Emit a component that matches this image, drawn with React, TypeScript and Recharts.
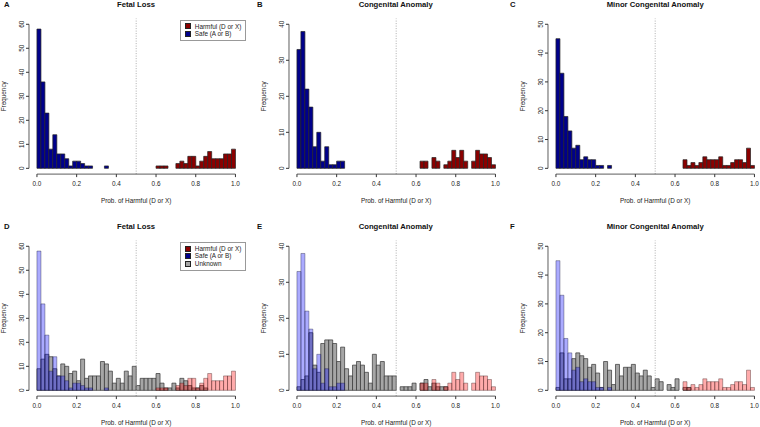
import React from "react";
import { BarChart, Bar, XAxis, YAxis, ReferenceLine, Legend } from "recharts";

// bins of width 0.02 from 0 to 1
const binStart = Array.from({ length: 50 }, (_, i) => i * 0.02);
const xTicks = [0, 0.2, 0.4, 0.6, 0.8, 1];

const fetalSafe = [
  58, 36, 23, 8, 14, 6, 6, 4, 1, 3,
  3, 2, 1, 1, 0, 0, 0, 1, 0, 0,
  0, 0, 0, 0, 0, 0, 0, 0, 0, 0,
  0, 0, 0, 0, 0, 0, 0, 0, 0, 0,
  0, 0, 0, 0, 0, 0, 0, 0, 0, 0,
];
const fetalHarmful = [
  0, 0, 0, 0, 0, 0, 0, 0, 0, 0,
  0, 0, 0, 0, 0, 0, 0, 0, 0, 0,
  0, 0, 0, 0, 0, 0, 0, 0, 0, 0,
  1, 1, 1, 0, 0, 2, 3, 2, 5, 5,
  1, 3, 5, 7, 4, 4, 4, 6, 6, 8,
];
const fetalUnknown = [
  9, 13, 15, 14, 9, 6, 11, 10, 7, 8,
  4, 13, 5, 6, 6, 6, 12, 11, 8, 3,
  5, 3, 8, 6, 10, 2, 5, 5, 5, 5,
  7, 3, 1, 1, 3, 1, 5, 4, 2, 1,
  1, 2, 1, 0, 0, 0, 0, 0, 0, 0,
];

const congSafe = [
  33, 38, 22, 17, 6, 10, 2, 6, 1, 1,
  2, 2, 0, 0, 0, 0, 0, 0, 0, 0,
  0, 0, 0, 0, 0, 0, 0, 0, 0, 0,
  0, 0, 0, 0, 0, 0, 0, 0, 0, 0,
  0, 0, 0, 0, 0, 0, 0, 0, 0, 0,
];
const congHarmful = [
  0, 0, 0, 0, 0, 0, 0, 0, 0, 0,
  0, 0, 0, 0, 0, 0, 0, 0, 0, 0,
  0, 0, 0, 0, 0, 0, 0, 0, 0, 0,
  0, 2, 2, 0, 3, 2, 0, 1, 2, 5,
  3, 5, 2, 0, 2, 5, 4, 4, 3, 1,
];
const congUnknown = [
  1, 3, 4, 16, 7, 5, 13, 14, 14, 13,
  8, 12, 6, 4, 7, 8, 7, 5, 2, 10,
  7, 8, 4, 4, 4, 0, 1, 1, 1, 2,
  0, 2, 3, 1, 2, 1, 1, 1, 0, 0,
  0, 0, 0, 0, 0, 0, 0, 0, 0, 0,
];

const minorSafe = [
  45, 33, 18, 13, 7, 8, 3, 4, 3, 3,
  1, 1, 0, 1, 0, 0, 0, 0, 0, 0,
  0, 0, 0, 0, 0, 0, 0, 0, 0, 0,
  0, 0, 0, 0, 0, 0, 0, 0, 0, 0,
  0, 0, 0, 0, 0, 0, 0, 0, 0, 0,
];
const minorHarmful = [
  0, 0, 0, 0, 0, 0, 0, 0, 0, 0,
  0, 0, 0, 0, 0, 0, 0, 0, 0, 0,
  0, 0, 0, 0, 0, 0, 0, 0, 0, 0,
  0, 0, 3, 1, 2, 1, 2, 4, 3, 3,
  3, 4, 1, 1, 2, 3, 3, 2, 7, 1,
];
const minorUnknown = [
  1, 13, 4, 4, 11, 13, 12, 11, 8, 9,
  6, 1, 10, 7, 2, 9, 5, 8, 8, 9,
  6, 5, 7, 5, 1, 4, 3, 0, 2, 1,
  4, 0, 1, 1, 0, 0, 0, 0, 0, 0,
  0, 0, 0, 0, 0, 0, 0, 0, 0, 0,
];

const font = "'Liberation Sans', Arial, Helvetica, sans-serif";
const darkBlue = "#00008b";
const darkRed = "#8b0000";
const grayFill = "#a6a6a6";

const plotW = 214.4;
const plotH = 155.6;
const yAxisW = 30;
const chartH = 213;
const xAxisH = 30;
const pad = (plotW * 0.04) / 1.08;

type Item = { label: string; color: string };

const legendTwo: Item[] = [
  { label: "Harmful (D or X)", color: darkRed },
  { label: "Safe (A or B)", color: darkBlue },
];
const legendThree: Item[] = [...legendTwo, { label: "Unknown", color: grayFill }];

function LegendBox({ items }: { items: Item[] }) {
  return (
    <div
      style={{
        border: "1px solid #999",
        background: "#fff",
        padding: "2px 4px 2px 4px",
        fontSize: 6.4,
        lineHeight: "7.6px",
        fontFamily: font,
        color: "#222",
        whiteSpace: "nowrap",
      }}
    >
      {items.map((it) => (
        <div key={it.label} style={{ display: "flex", alignItems: "center" }}>
          <span
            style={{
              display: "inline-block",
              width: 4,
              height: 4,
              background: it.color,
              border: "0.5px solid #222",
              marginRight: 4,
            }}
          />
          {it.label}
        </div>
      ))}
    </div>
  );
}

function YTick(props: any) {
  const { x, y, payload } = props;
  return (
    <text
      x={x}
      y={y}
      transform={`rotate(-90, ${x}, ${y})`}
      textAnchor="middle"
      fontSize={6.4}
      fontFamily={font}
      fill="#222"
    >
      {payload.value}
    </text>
  );
}

type PanelProps = {
  letter: string;
  title: string;
  yMax: number;
  yTicks: number[];
  safe: number[];
  harmful: number[];
  unknown?: number[];
  legend?: Item[];
  cellLeft: number;
  plotLeft: number;
  rowTop: number;
};

function Panel(p: PanelProps) {
  const rows = binStart.map((s, i) => ({
    bin: i,
    x: s + 0.01,
    safe: p.safe[i],
    harmful: p.harmful[i],
    unknown: p.unknown ? p.unknown[i] : 0,
  }));
  const lo = -0.04 * p.yMax;
  const hi = 1.04 * p.yMax;
  const overlay = !!p.unknown;
  const centerX = p.plotLeft + plotW / 2;
  const chartLeft = p.plotLeft - yAxisW;
  const chartW = yAxisW + plotW + 6;
  const bottomMargin = chartH - 18.5 - plotH - xAxisH;

  return (
    <>
      <div
        style={{
          position: "absolute",
          left: p.cellLeft + 4,
          top: p.rowTop,
          fontSize: 7.7,
          fontWeight: "bold",
          lineHeight: "9px",
        }}
      >
        {p.letter}
      </div>
      <div
        style={{
          position: "absolute",
          left: centerX - 100,
          width: 200,
          textAlign: "center",
          top: p.rowTop,
          fontSize: 7.7,
          fontWeight: "bold",
          lineHeight: "9px",
        }}
      >
        {p.title}
      </div>
      <div style={{ position: "absolute", left: chartLeft, top: p.rowTop }}>
        <BarChart
          width={chartW}
          height={chartH}
          data={rows}
          margin={{ top: 18.5, right: 6, bottom: bottomMargin, left: 0 }}
          barCategoryGap={0}
          barGap={0}
        >
          <XAxis
            xAxisId="a"
            type="number"
            dataKey="x"
            domain={[-0.04, 1.04]}
            allowDataOverflow
            ticks={xTicks}
            tickFormatter={(v: number) => v.toFixed(1)}
            axisLine={false}
            tickLine={{ stroke: "#333" }}
            tickSize={3}
            tickMargin={4}
            height={xAxisH}
            tick={{ fontSize: 6.4, fill: "#222", fontFamily: font }}
            label={{
              value: "Prob. of Harmful (D or X)",
              position: "insideBottom",
              offset: 1,
              style: { fontSize: 6.4, fill: "#222", fontFamily: font },
            }}
          />
          <XAxis xAxisId="g" dataKey="bin" hide height={0} padding={{ left: pad, right: pad }} />
          <XAxis xAxisId="s" dataKey="bin" hide height={0} padding={{ left: pad, right: pad }} />
          <XAxis xAxisId="h" dataKey="bin" hide height={0} padding={{ left: pad, right: pad }} />
          <YAxis
            type="number"
            domain={[lo, hi]}
            allowDataOverflow
            ticks={p.yTicks}
            width={yAxisW}
            axisLine={false}
            tickLine={{ stroke: "#333" }}
            tickSize={3}
            tickMargin={2}
            tick={<YTick />}
            label={{
              value: "Frequency",
              angle: -90,
              position: "insideLeft",
              offset: 5,
              style: { fontSize: 6.4, fill: "#222", fontFamily: font, textAnchor: "middle" },
            }}
          />
          <ReferenceLine
            xAxisId="a"
            x={0.5}
            stroke="#999"
            strokeDasharray="1 1.5"
            strokeWidth={0.8}
          />
          {overlay && (
            <Bar
              xAxisId="g"
              dataKey="unknown"
              fill={grayFill}
              stroke="#333"
              strokeWidth={0.7}
              isAnimationActive={false}
            />
          )}
          <Bar
            xAxisId="s"
            dataKey="safe"
            fill={overlay ? "rgba(0,0,255,0.33)" : darkBlue}
            stroke={overlay ? "rgba(30,30,60,0.55)" : "#222"}
            strokeWidth={0.7}
            isAnimationActive={false}
          />
          <Bar
            xAxisId="h"
            dataKey="harmful"
            fill={overlay ? "rgba(255,0,0,0.33)" : darkRed}
            stroke={overlay ? "rgba(60,30,30,0.55)" : "#222"}
            strokeWidth={0.7}
            isAnimationActive={false}
          />
          <ReferenceLine
            xAxisId="a"
            segment={[
              { x: 0, y: lo },
              { x: 1, y: lo },
            ]}
            stroke="#333"
            strokeWidth={0.8}
          />
          <ReferenceLine
            xAxisId="a"
            segment={[
              { x: -0.04, y: 0 },
              { x: -0.04, y: p.yMax },
            ]}
            stroke="#333"
            strokeWidth={0.8}
          />
          {p.legend && (
            <Legend
              layout="vertical"
              align="center"
              verticalAlign="middle"
              content={() => <LegendBox items={p.legend as Item[]} />}
              wrapperStyle={{ left: 181, top: 19.5, width: "auto", height: "auto" }}
            />
          )}
        </BarChart>
      </div>
    </>
  );
}

const cols = [
  { cellLeft: 0, plotLeft: 28.8 },
  { cellLeft: 253, plotLeft: 288.5 },
  { cellLeft: 506, plotLeft: 548 },
];
const rowTops = [0, 222.4];

export default function App() {
  return (
    <div
      style={{
        position: "absolute",
        left: 0,
        top: 0,
        width: 760,
        height: 427,
        overflow: "hidden",
        background: "#fff",
        fontFamily: font,
        color: "#111",
      }}
    >
      <Panel letter="A" title="Fetal Loss" yMax={60} yTicks={[0, 10, 20, 30, 40, 50, 60]}
        safe={fetalSafe} harmful={fetalHarmful} legend={legendTwo} {...cols[0]} rowTop={rowTops[0]} />
      <Panel letter="B" title="Congenital Anomaly" yMax={40} yTicks={[0, 10, 20, 30, 40]}
        safe={congSafe} harmful={congHarmful} {...cols[1]} rowTop={rowTops[0]} />
      <Panel letter="C" title="Minor Congenital Anomaly" yMax={50} yTicks={[0, 10, 20, 30, 40, 50]}
        safe={minorSafe} harmful={minorHarmful} {...cols[2]} rowTop={rowTops[0]} />
      <Panel letter="D" title="Fetal Loss" yMax={60} yTicks={[0, 10, 20, 30, 40, 50, 60]}
        safe={fetalSafe} harmful={fetalHarmful} unknown={fetalUnknown} legend={legendThree}
        {...cols[0]} rowTop={rowTops[1]} />
      <Panel letter="E" title="Congenital Anomaly" yMax={40} yTicks={[0, 10, 20, 30, 40]}
        safe={congSafe} harmful={congHarmful} unknown={congUnknown} {...cols[1]} rowTop={rowTops[1]} />
      <Panel letter="F" title="Minor Congenital Anomaly" yMax={50} yTicks={[0, 10, 20, 30, 40, 50]}
        safe={minorSafe} harmful={minorHarmful} unknown={minorUnknown} {...cols[2]} rowTop={rowTops[1]} />
    </div>
  );
}
